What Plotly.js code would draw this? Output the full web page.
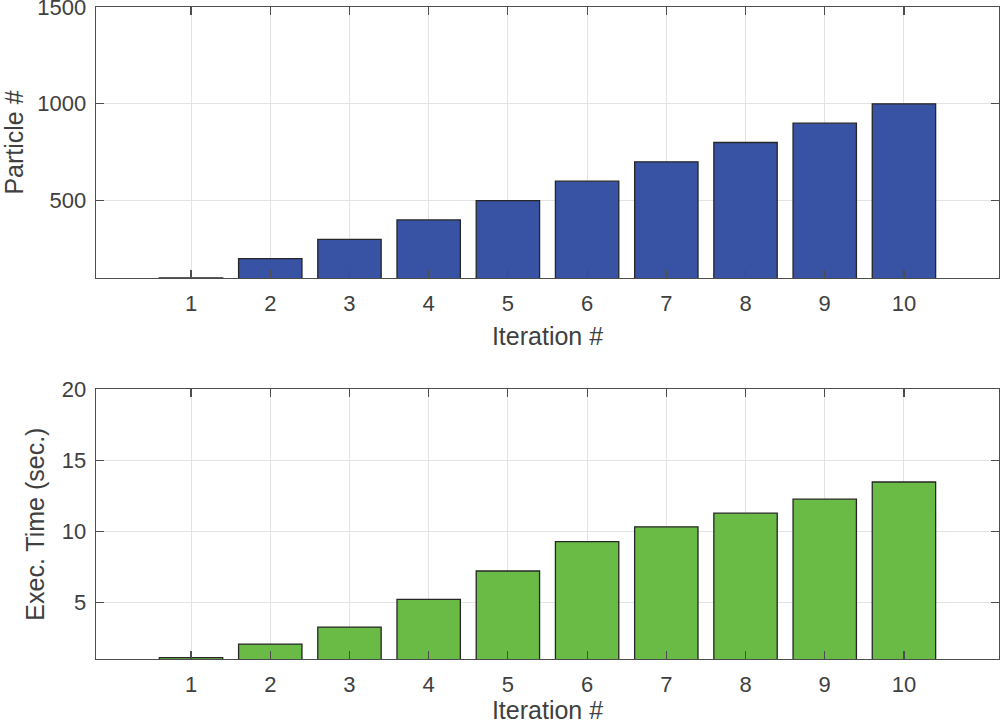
<!DOCTYPE html>
<html>
<head>
<meta charset="utf-8">
<script src="https://cdn.plot.ly/plotly-3.0.1.min.js"></script>
<style>html,body{margin:0;padding:0;background:#fff;}#chart{width:1000px;height:724px;}</style>
</head>
<body>
<div id="chart"></div>
<script>
const iterations = [1, 2, 3, 4, 5, 6, 7, 8, 9, 10];
const particleCounts = [100, 200, 300, 400, 500, 600, 700, 800, 900, 1000];
const execTimes = [1.1, 2.05, 3.25, 5.2, 7.2, 9.27, 10.31, 11.27, 12.26, 13.47];
const xTickVals = [1, 2, 3, 4, 5, 6, 7, 8, 9, 10];
const topYTicks = [500, 1000, 1500];
const bottomYTicks = [5, 10, 15, 20];

const textColor = '#404040';
const lineColor = '#4d4d4d';
const gridColor = '#e3e3e3';
const tickFont = {family: 'Liberation Sans, Arial, sans-serif', size: 22, color: textColor};
const titleFont = {family: 'Liberation Sans, Arial, sans-serif', size: 25, color: textColor};

const traces = [
  {type: 'bar', x: iterations, y: particleCounts, xaxis: 'x', yaxis: 'y', width: 0.8,
   marker: {color: '#3853A4', line: {color: '#262626', width: 1.3}}, hoverinfo: 'x+y'},
  {type: 'bar', x: iterations, y: execTimes, xaxis: 'x2', yaxis: 'y2', width: 0.8,
   marker: {color: '#6ABB45', line: {color: '#262626', width: 1.3}}, hoverinfo: 'x+y'}
];

function xAxis(anchor, standoff) {
  return {
    anchor: anchor, domain: [0, 1], range: [-0.2, 11.2],
    tickmode: 'array', tickvals: xTickVals, ticktext: xTickVals.map(String),
    ticks: 'inside', ticklen: 8, tickwidth: 1.2, tickcolor: lineColor,
    showline: true, linecolor: lineColor, linewidth: 1.3, mirror: 'ticks',
    showgrid: true, gridcolor: gridColor, gridwidth: 1, zeroline: false,
    tickfont: tickFont, ticklabelstandoff: 5, ticklabeloverflow: 'allow',
    title: {text: 'Iteration #', font: titleFont, standoff: standoff}
  };
}
function yAxis(anchor, domain, range, ticks, titleText) {
  return {
    anchor: anchor, domain: domain, range: range,
    tickmode: 'array', tickvals: ticks, ticktext: ticks.map(String),
    ticks: 'inside', ticklen: 8, tickwidth: 1.2, tickcolor: lineColor,
    showline: true, linecolor: lineColor, linewidth: 1.3, mirror: 'ticks',
    showgrid: true, gridcolor: gridColor, gridwidth: 1, zeroline: false,
    tickfont: tickFont, ticklabelstandoff: 4, ticklabeloverflow: 'allow',
    title: {text: titleText, font: titleFont, standoff: 10}
  };
}

const plotTop = 7, plotBottom = 65;
const H = 724 - plotTop - plotBottom;
const topDomain = [1 - (278 - plotTop) / H, 1];
const bottomDomain = [0, 1 - (389.3 - plotTop) / H];

const layout = {
  width: 1000, height: 724,
  margin: {l: 96, r: 1, t: plotTop, b: plotBottom},
  paper_bgcolor: '#ffffff', plot_bgcolor: '#ffffff',
  showlegend: false, bargap: 0.2,
  xaxis: xAxis('y', 12),
  yaxis: yAxis('x', topDomain, [100, 1500], topYTicks, 'Particle #'),
  xaxis2: xAxis('y2', 10),
  yaxis2: yAxis('x2', bottomDomain, [1, 20], bottomYTicks, 'Exec. Time (sec.)')
};

Plotly.newPlot('chart', traces, layout, {displayModeBar: false, staticPlot: true});
</script>
</body>
</html>
